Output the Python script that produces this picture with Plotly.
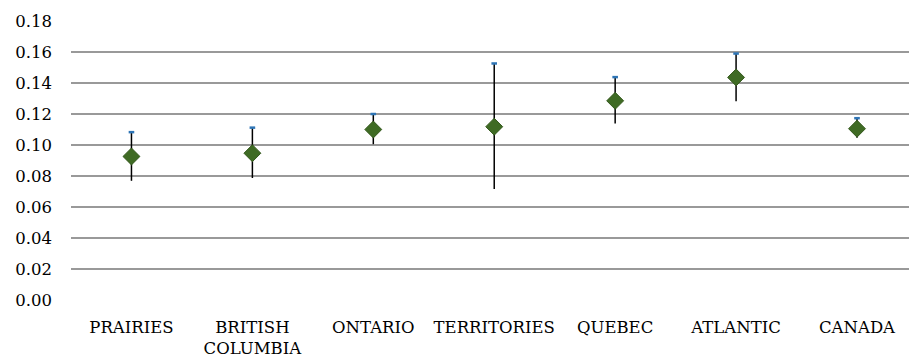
import plotly.graph_objects as go

# Regional estimates with low/high bounds
regions = ["PRAIRIES", "BRITISH<br>COLUMBIA", "ONTARIO", "TERRITORIES",
           "QUEBEC", "ATLANTIC", "CANADA"]
estimate = [0.0926, 0.0947, 0.1100, 0.1118, 0.1285, 0.1436, 0.1105]
low = [0.0769, 0.0787, 0.1005, 0.0716, 0.1139, 0.1282, 0.1047]
high = [0.1083, 0.1112, 0.1200, 0.1526, 0.1438, 0.1590, 0.1173]

y_ticks = [0.00, 0.02, 0.04, 0.06, 0.08, 0.10, 0.12, 0.14, 0.16, 0.18]

xpos = list(range(len(regions)))

# vertical low-high segments, one per region
seg_x, seg_y = [], []
for i, lo, hi in zip(xpos, low, high):
    seg_x += [i, i, None]
    seg_y += [lo, hi, None]

fig = go.Figure()
fig.add_trace(go.Scatter(
    x=seg_x, y=seg_y, mode="lines",
    line=dict(color="black", width=1.5),
    hoverinfo="skip", showlegend=False,
))
fig.add_trace(go.Scatter(
    x=xpos, y=high, mode="markers",
    marker=dict(symbol="line-ew", size=4,
                line=dict(color="#2E75B6", width=2.5)),
    showlegend=False,
))
fig.add_trace(go.Scatter(
    x=xpos, y=estimate, mode="markers",
    marker=dict(symbol="diamond", size=13, color="#3F6B24",
                line=dict(color="#34591D", width=1)),
    showlegend=False,
))

font = dict(family="DejaVu Serif", size=16.5, color="black")

fig.update_layout(
    width=909, height=358,
    margin=dict(l=71, r=0, t=21, b=56),
    paper_bgcolor="white", plot_bgcolor="white",
    font=font,
    xaxis=dict(
        range=[-0.5, 6.43],
        tickmode="array", tickvals=xpos, ticktext=regions,
        showgrid=False, zeroline=False, showline=False,
        ticks="", tickfont=font, ticklabelstandoff=15,
    ),
    yaxis=dict(
        range=[0, 0.18],
        tickmode="array", tickvals=y_ticks,
        ticktext=[f"{v:.2f}" for v in y_ticks],
        showgrid=True, gridcolor="#999999", gridwidth=1.5,
        zeroline=False, showline=False, ticks="",
        tickfont=font, ticklabelstandoff=18,
    ),
)

fig.write_html("out.html")
